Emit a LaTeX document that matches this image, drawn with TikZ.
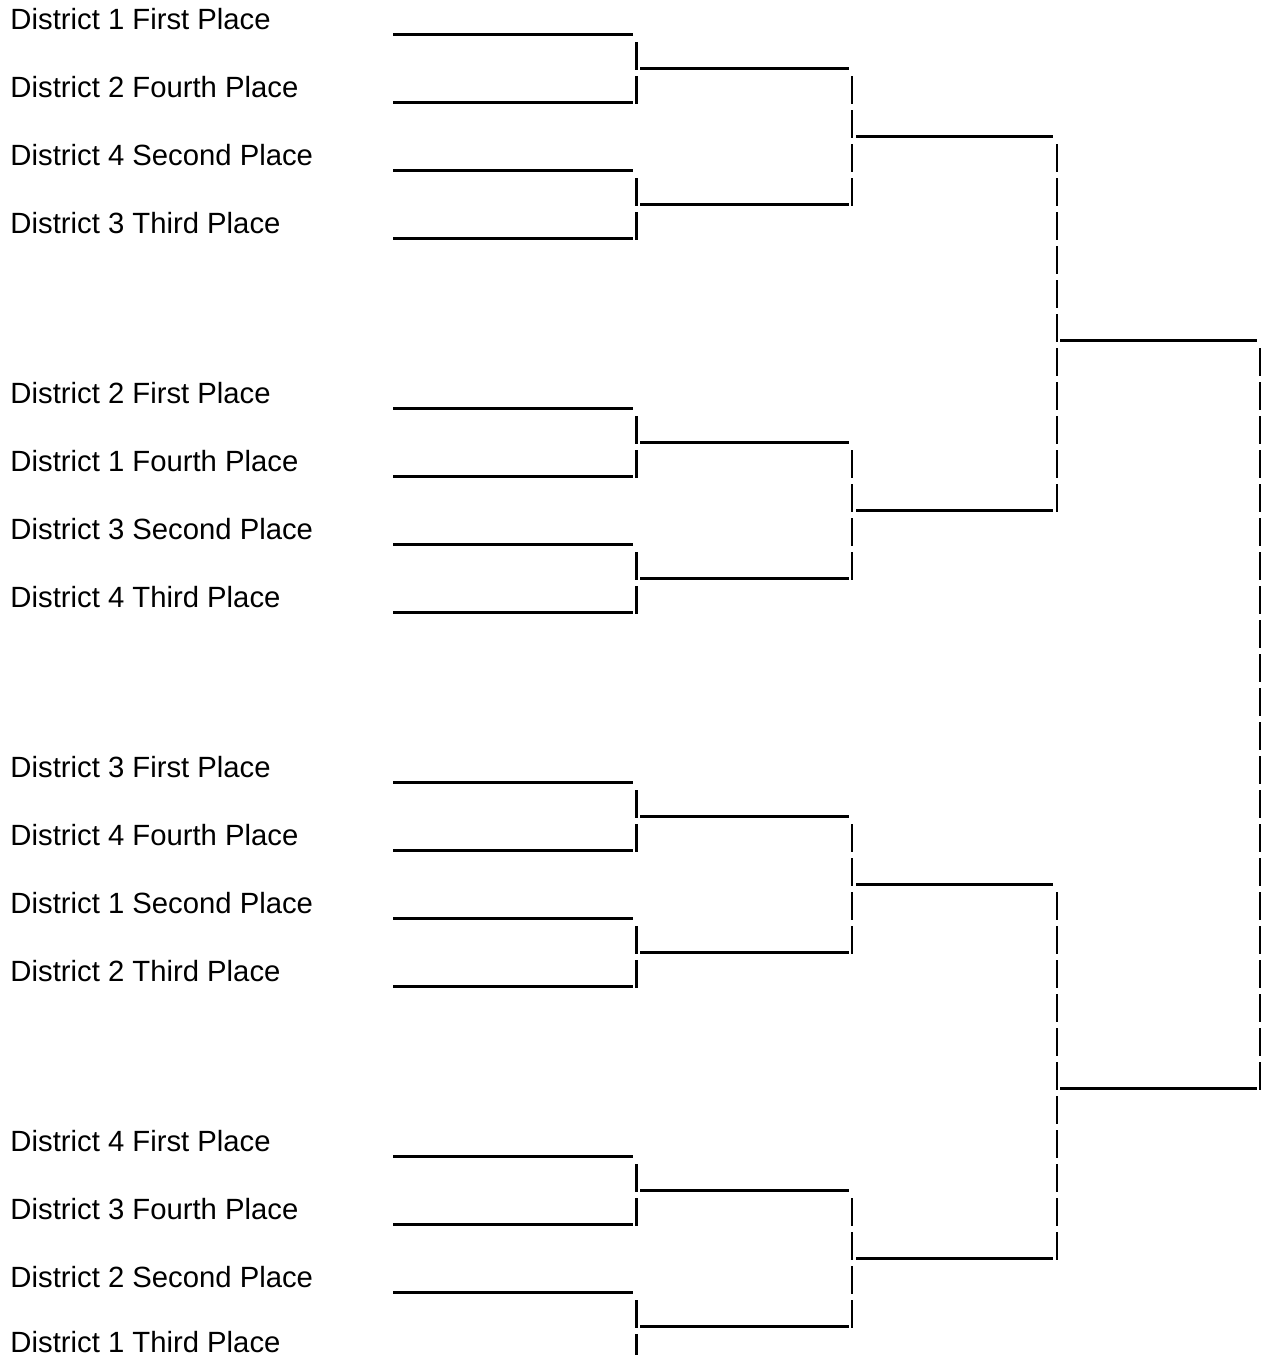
\documentclass[tikz,border=0pt]{standalone}
\usepackage{fontspec}
\setmainfont{Liberation Sans}

\begin{document}
\begin{tikzpicture}[
  x=0.41pt, y=-0.41pt,
  team/.style={anchor=base west, inner sep=0pt, font=\fontsize{12}{14}\selectfont},
  slot/.style={line width=1.23pt},
  bar/.style={line width=0.85pt, dash pattern=on 11.48pt off 2.46pt}
]
\useasboundingbox (0,0) rectangle (1262,1355);
\clip (0,0) rectangle (1262,1355);

\node[team] (d1first)  at (10,29)   {District 1 First Place};
\node[team] (d2fourth) at (10,97)   {District 2 Fourth Place};
\node[team] (d4second) at (10,165)  {District 4 Second Place};
\node[team] (d3third)  at (10,233)  {District 3 Third Place};
\node[team] (d2first)  at (10,403)  {District 2 First Place};
\node[team] (d1fourth) at (10,471)  {District 1 Fourth Place};
\node[team] (d3second) at (10,539)  {District 3 Second Place};
\node[team] (d4third)  at (10,607)  {District 4 Third Place};
\node[team] (d3first)  at (10,777)  {District 3 First Place};
\node[team] (d4fourth) at (10,845)  {District 4 Fourth Place};
\node[team] (d1second) at (10,913)  {District 1 Second Place};
\node[team] (d2third)  at (10,981)  {District 2 Third Place};
\node[team] (d4first)  at (10,1151) {District 4 First Place};
\node[team] (d3fourth) at (10,1219) {District 3 Fourth Place};
\node[team] (d2second) at (10,1287) {District 2 Second Place};
\node[team] (d1third)  at (10,1352) {District 1 Third Place};

% first round
\draw[slot] (393,34) -- (633,34);
\draw[slot] (393,102) -- (633,102);
\draw[slot] (393,170) -- (633,170);
\draw[slot] (393,238) -- (633,238);
\draw[slot] (393,408) -- (633,408);
\draw[slot] (393,476) -- (633,476);
\draw[slot] (393,544) -- (633,544);
\draw[slot] (393,612) -- (633,612);
\draw[slot] (393,782) -- (633,782);
\draw[slot] (393,850) -- (633,850);
\draw[slot] (393,918) -- (633,918);
\draw[slot] (393,986) -- (633,986);
\draw[slot] (393,1156) -- (633,1156);
\draw[slot] (393,1224) -- (633,1224);
\draw[slot] (393,1292) -- (633,1292);

\draw[bar] (636.5,42) -- (636.5,104);
\draw[bar] (636.5,178) -- (636.5,240);
\draw[bar] (636.5,416) -- (636.5,478);
\draw[bar] (636.5,552) -- (636.5,614);
\draw[bar] (636.5,790) -- (636.5,852);
\draw[bar] (636.5,926) -- (636.5,988);
\draw[bar] (636.5,1164) -- (636.5,1226);
\draw[bar] (636.5,1300) -- (636.5,1362);

% second round
\draw[slot] (640,68) -- (849,68);
\draw[slot] (640,204) -- (849,204);
\draw[slot] (640,442) -- (849,442);
\draw[slot] (640,578) -- (849,578);
\draw[slot] (640,816) -- (849,816);
\draw[slot] (640,952) -- (849,952);
\draw[slot] (640,1190) -- (849,1190);
\draw[slot] (640,1326) -- (849,1326);

\draw[bar] (852.3,76) -- (852.3,206);
\draw[bar] (852.3,450) -- (852.3,580);
\draw[bar] (852.3,824) -- (852.3,954);
\draw[bar] (852.3,1198) -- (852.3,1328);

% semifinals
\draw[slot] (856,136) -- (1052.7,136);
\draw[slot] (856,510) -- (1052.7,510);
\draw[slot] (856,884) -- (1052.7,884);
\draw[slot] (856,1258) -- (1052.7,1258);

\draw[bar] (1056.7,144) -- (1056.7,512);
\draw[bar] (1056.7,892) -- (1056.7,1260);

% final
\draw[slot] (1060,340) -- (1256.7,340);
\draw[slot] (1060,1088) -- (1256.7,1088);

\draw[bar] (1260,348) -- (1260,1090);
\end{tikzpicture}
\end{document}
